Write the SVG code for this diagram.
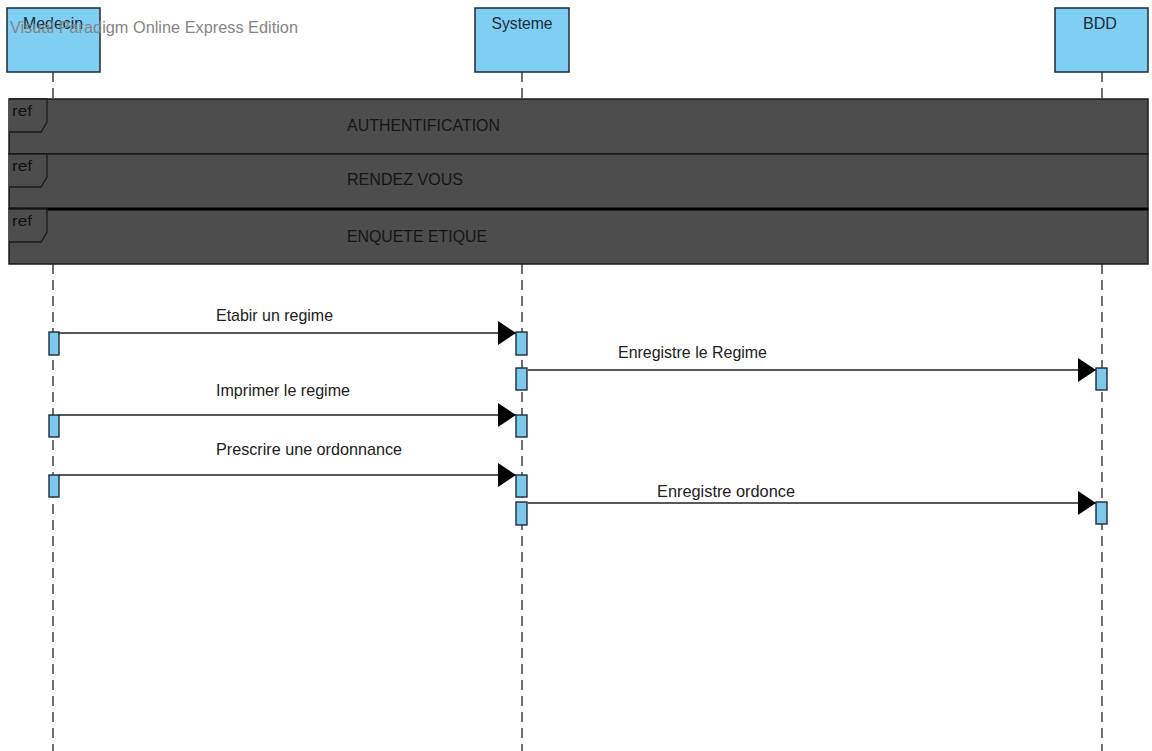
<svg xmlns="http://www.w3.org/2000/svg" width="1152" height="751" viewBox="0 0 1152 751">
  <defs>
    <style>
      text { font-family: "Liberation Sans", Arial, sans-serif; }
      .lifeline { stroke: #222; stroke-width: 1.3; stroke-dasharray: 10 6; fill: none; }
      .head { fill: #7fcff3; stroke: #1c2b3a; stroke-width: 1.5; }
      .head-label { font-size: 17px; fill: #1c2b3a; }
      .frame { fill: #4d4d4d; stroke: #1a1a1a; stroke-width: 1.5; }
      .tab { fill: #4d4d4d; stroke: #1a1a1a; stroke-width: 1.3; }
      .tab-label { font-size: 15px; fill: #111; }
      .frame-label { font-size: 17px; fill: #151515; }
      .act { fill: #7ec8ec; stroke: #1c2b3a; stroke-width: 1.4; }
      .msg { stroke: #222; stroke-width: 1.5; fill: none; marker-end: url(#arrow); }
      .msg-label { font-size: 17px; fill: #222; }
    </style>
    <marker id="arrow" markerWidth="18" markerHeight="24" refX="18" refY="12" orient="auto" markerUnits="userSpaceOnUse">
      <path d="M0,0 L18,12 L0,24 Z" fill="#000"/>
    </marker>
  </defs>

  <rect width="1152" height="751" fill="#fff"/>

  <!-- lifelines -->
  <g id="lifelines">
    <line class="lifeline" x1="53" y1="72" x2="53" y2="751"/>
    <line class="lifeline" x1="522" y1="72" x2="522" y2="751"/>
    <line class="lifeline" x1="1102" y1="72" x2="1102" y2="751"/>
  </g>

  <!-- participants -->
  <g id="medecin">
    <rect class="head" x="7" y="8" width="93" height="64"/>
    <text class="head-label" x="53" y="29" text-anchor="middle" textLength="60" lengthAdjust="spacingAndGlyphs">Medecin</text>
  </g>
  <g id="systeme">
    <rect class="head" x="475" y="8" width="94" height="64"/>
    <text class="head-label" x="522" y="29" text-anchor="middle" textLength="61" lengthAdjust="spacingAndGlyphs">Systeme</text>
  </g>
  <g id="bdd">
    <rect class="head" x="1055" y="8" width="93" height="64"/>
    <text class="head-label" x="1100" y="29" text-anchor="middle" textLength="34" lengthAdjust="spacingAndGlyphs">BDD</text>
  </g>

  <!-- edition banner -->
  <text x="10" y="33" font-size="17" fill="#858585" textLength="288" lengthAdjust="spacingAndGlyphs">Visual Paradigm Online Express Edition</text>

  <!-- interaction uses -->
  <g id="ref-authentification">
    <rect class="frame" x="9" y="99" width="1139" height="55"/>
    <path class="tab" d="M9,99 H47 V122 L41,132 H9"/>
    <text class="tab-label" x="12" y="116" textLength="20" lengthAdjust="spacingAndGlyphs">ref</text>
    <text class="frame-label" x="347" y="131" textLength="153" lengthAdjust="spacingAndGlyphs">AUTHENTIFICATION</text>
  </g>
  <g id="ref-rendez-vous">
    <rect class="frame" x="9" y="154" width="1139" height="55"/>
    <path class="tab" d="M9,154 H47 V177 L41,187 H9"/>
    <text class="tab-label" x="12" y="171" textLength="20" lengthAdjust="spacingAndGlyphs">ref</text>
    <text class="frame-label" x="347" y="185" textLength="116" lengthAdjust="spacingAndGlyphs">RENDEZ VOUS</text>
  </g>
  <g id="ref-enquete">
    <rect class="frame" x="9" y="209" width="1139" height="55"/>
    <line x1="9" y1="209" x2="1148" y2="209" stroke="#000" stroke-width="3"/>
    <path class="tab" d="M9,209 H47 V232 L41,242 H9"/>
    <text class="tab-label" x="12" y="226" textLength="20" lengthAdjust="spacingAndGlyphs">ref</text>
    <text class="frame-label" x="347" y="242" textLength="140" lengthAdjust="spacingAndGlyphs">ENQUETE ETIQUE</text>
  </g>

  <!-- messages -->
  <g id="connectors">
    <line class="msg" x1="59" y1="333" x2="516" y2="333"/>
    <text class="msg-label" x="216" y="321" textLength="117" lengthAdjust="spacingAndGlyphs">Etabir un regime</text>

    <line class="msg" x1="528" y1="370" x2="1096" y2="370"/>
    <text class="msg-label" x="618" y="358" textLength="149" lengthAdjust="spacingAndGlyphs">Enregistre le Regime</text>

    <line class="msg" x1="59" y1="415" x2="516" y2="415"/>
    <text class="msg-label" x="216" y="396" textLength="134" lengthAdjust="spacingAndGlyphs">Imprimer le regime</text>

    <line class="msg" x1="59" y1="475" x2="516" y2="475"/>
    <text class="msg-label" x="216" y="455" textLength="186" lengthAdjust="spacingAndGlyphs">Prescrire une ordonnance</text>

    <line class="msg" x1="528" y1="503" x2="1096" y2="503"/>
    <text class="msg-label" x="657" y="497" textLength="138" lengthAdjust="spacingAndGlyphs">Enregistre ordonce</text>
  </g>

  <!-- activations -->
  <g id="activations">
    <rect class="act" x="49" y="332" width="10" height="23"/>
    <rect class="act" x="49" y="415" width="10" height="22"/>
    <rect class="act" x="49" y="475" width="10" height="22"/>

    <rect class="act" x="516" y="332" width="11" height="23"/>
    <rect class="act" x="516" y="368" width="11" height="22"/>
    <rect class="act" x="516" y="415" width="11" height="22"/>
    <rect class="act" x="516" y="475" width="11" height="22"/>
    <rect class="act" x="516" y="502" width="11" height="23"/>

    <rect class="act" x="1096" y="368" width="11" height="22"/>
    <rect class="act" x="1096" y="502" width="11" height="22"/>
  </g>
</svg>
